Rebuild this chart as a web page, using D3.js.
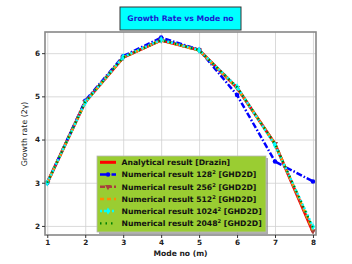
<!DOCTYPE html>
<html>
<head>
<meta charset="utf-8">
<script src="https://cdn.jsdelivr.net/npm/d3@7"></script>
<style>
body{margin:0;background:#fff;}
text{font-family:"DejaVu Sans",sans-serif;}
</style>
</head>
<body>
<div id="chart"></div>
<script>
var modes = [1,2,3,4,5,6,7,8];
var analytical = [3.0,4.87,5.9,6.3,6.07,5.2,3.9,1.86];
var num128 = [3.0,4.9,5.93,6.36,6.08,5.03,3.49,3.03];
var num256 = [3.0,4.87,5.9,6.3,6.07,5.2,3.9,1.88];
var num512 = [3.0,4.86,5.9,6.3,6.06,5.2,3.9,1.9];
var num1024 = [3.0,4.86,5.91,6.31,6.07,5.22,3.87,1.98];
var num2048 = [3.0,4.87,5.9,6.3,6.07,5.21,3.9,1.95];
var legendLabels = ["Analytical result [Drazin]","Numerical result 128","Numerical result 256","Numerical result 512","Numerical result 1024","Numerical result 2048"];
var yTicks = [2,3,4,5,6];

var width = 352, height = 264;
var svg = d3.select("#chart").append("svg")
    .attr("width",width).attr("height",height);

var x = d3.scaleLinear().domain([0.94,8.08]).range([45,316]);
var y = d3.scaleLinear().domain([1.79,6.49]).range([235,32]);

// grid
svg.append("g")
    .attr("transform","translate(0,235)")
    .call(d3.axisBottom(x).tickValues(modes).tickSize(-203).tickFormat(""))
    .call(g=>g.select(".domain").remove())
    .selectAll("line").attr("stroke","#d0d0d0").attr("stroke-width",0.8);
svg.append("g")
    .attr("transform","translate(45,0)")
    .call(d3.axisLeft(y).tickValues(yTicks).tickSize(-271).tickFormat(""))
    .call(g=>g.select(".domain").remove())
    .selectAll("line").attr("stroke","#d0d0d0").attr("stroke-width",0.8);

var series = [
    {vals:analytical,color:"red",dash:null,w:3,marker:null},
    {vals:num128,color:"blue",dash:"6,2,1.5,2",w:2.5,marker:d3.symbolCircle},
    {vals:num256,color:"#a8403c",dash:"5,2",w:2.5,marker:d3.symbolTriangle},
    {vals:num512,color:"darkorange",dash:"4,3",w:2.5,marker:null},
    {vals:num1024,color:"cyan",dash:"2,2",w:2.5,marker:d3.symbolDiamond},
    {vals:num2048,color:"green",dash:"1.5,4",w:2.2,marker:null}
];

var line = d3.line().x((d,i)=>x(modes[i])).y(d=>y(d));

series.forEach(function(s){
    svg.append("path").datum(s.vals)
        .attr("fill","none")
        .attr("stroke",s.color)
        .attr("stroke-width",s.w)
        .attr("stroke-dasharray",s.dash)
        .attr("d",line);
    if(s.marker){
        svg.append("g").selectAll("path").data(s.vals).enter().append("path")
            .attr("d",d3.symbol().type(s.marker).size(16))
            .attr("transform",(d,i)=>"translate("+x(modes[i])+","+y(d)+")"+(s.marker==d3.symbolTriangle?" rotate(180)":""))
            .attr("fill",s.color);
    }
});

// frame
svg.append("rect").attr("x",45).attr("y",32).attr("width",271).attr("height",203)
    .attr("fill","none").attr("stroke","#888").attr("stroke-width",1.6);

// axes
var xAxis = svg.append("g").attr("transform","translate(0,235)")
    .call(d3.axisBottom(x).tickValues(modes).tickSize(3).tickPadding(2).tickFormat(d3.format("d")));
var yAxis = svg.append("g").attr("transform","translate(45,0)")
    .call(d3.axisLeft(y).tickValues(yTicks).tickSize(3).tickPadding(2).tickFormat(d3.format("d")));
[xAxis,yAxis].forEach(function(a){
    a.select(".domain").remove();
    a.selectAll("line").attr("stroke","#333");
    a.selectAll("text").attr("font-size",7.3).attr("font-weight","bold")
        .attr("font-family","DejaVu Sans").attr("fill","#222");
});

svg.append("text").attr("x",180.5).attr("y",256).attr("text-anchor","middle")
    .attr("font-size",7.6).attr("font-weight","bold").attr("fill","#222").text("Mode no (m)");
svg.append("text").attr("transform","translate(27,134) rotate(-90)").attr("text-anchor","middle")
    .attr("font-size",7.8).attr("fill","#222").text("Growth rate (2γ)");

// title
svg.append("rect").attr("x",120).attr("y",7).attr("width",121).attr("height",23)
    .attr("fill","cyan").attr("stroke","#333").attr("stroke-width",1);
svg.append("text").attr("x",180.5).attr("y",21.3).attr("text-anchor","middle")
    .attr("font-size",7.7).attr("font-weight","bold").attr("fill","#1a1ad0").text("Growth Rate vs Mode no");

// legend
var lg = svg.append("g");
lg.append("rect").attr("x",99).attr("y",158).attr("width",169).attr("height",76)
    .attr("fill","#777").attr("opacity",0.6);
lg.append("rect").attr("x",97).attr("y",156).attr("width",169).attr("height",76)
    .attr("fill","yellowgreen").attr("stroke","#b8b8b8").attr("stroke-width",0.8);
series.forEach(function(s,i){
    var yy = 162.3 + i*12.2;
    lg.append("line").attr("x1",100).attr("x2",116).attr("y1",yy).attr("y2",yy)
        .attr("stroke",s.color).attr("stroke-width",s.w).attr("stroke-dasharray",s.dash);
    if(s.marker){
        lg.append("path").attr("d",d3.symbol().type(s.marker).size(16))
            .attr("transform","translate(108,"+yy+")"+(s.marker==d3.symbolTriangle?" rotate(180)":""))
            .attr("fill",s.color);
    }
    var t = lg.append("text").attr("x",121.5).attr("y",yy+2.8)
        .attr("font-size",7.7).attr("font-weight","bold").attr("fill","#111");
    t.append("tspan").text(legendLabels[i]);
    if(i>0){
        t.append("tspan").attr("dy",-2.9).attr("font-size",5.2).text("2");
        t.append("tspan").attr("dy",2.9).text(" [GHD2D]");
    }
});
</script>
</body>
</html>
